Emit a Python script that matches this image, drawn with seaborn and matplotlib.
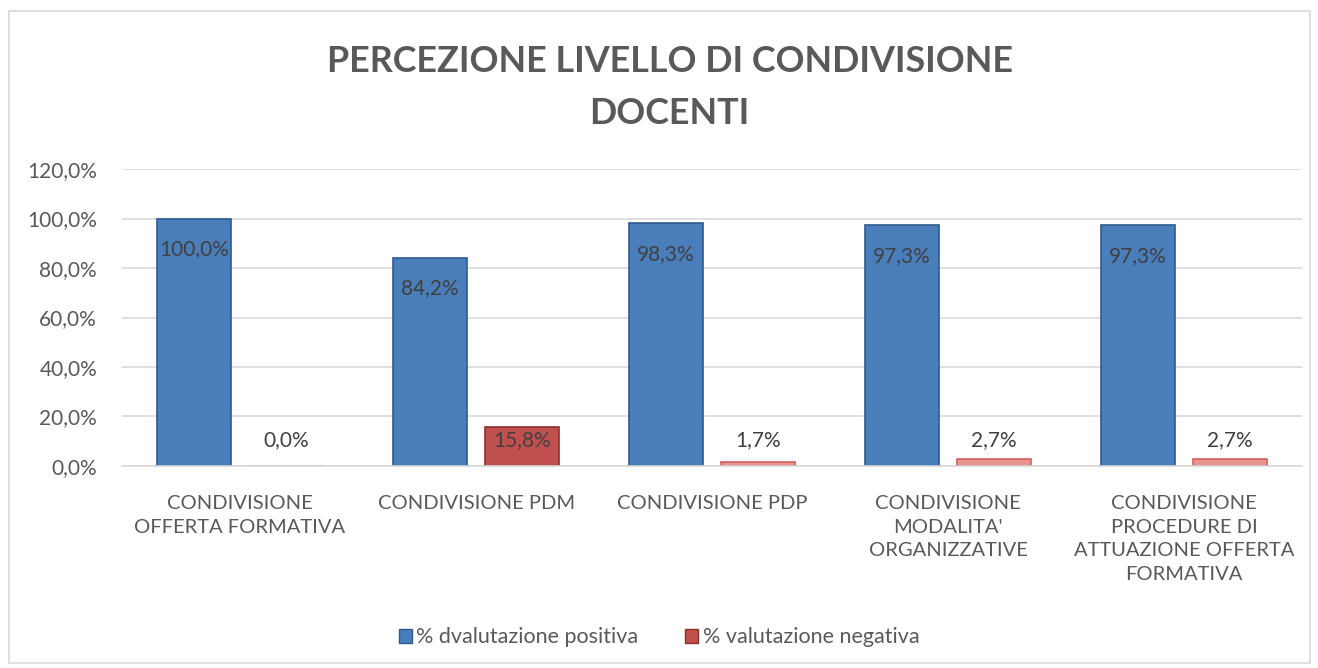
import matplotlib
matplotlib.use("Agg")
import matplotlib.pyplot as plt
import seaborn as sns
import pandas as pd
from matplotlib.patches import Rectangle, Patch

categories = ["CONDIVISIONE\nOFFERTA FORMATIVA", "CONDIVISIONE PDM", "CONDIVISIONE PDP",
              "CONDIVISIONE\nMODALITA'\nORGANIZZATIVE",
              "CONDIVISIONE\nPROCEDURE DI\nATTUAZIONE OFFERTA\nFORMATIVA"]
positive = [1.000, 0.842, 0.983, 0.973, 0.973]
negative = [0.000, 0.158, 0.017, 0.027, 0.027]
series = ["% dvalutazione positiva", "% valutazione negativa"]
title = "PERCEZIONE LIVELLO DI CONDIVISIONE\nDOCENTI"
yticks = [0, 0.2, 0.4, 0.6, 0.8, 1.0, 1.2]

sns.set_theme(style="white")
plt.rcParams['font.family'] = ['Lato', 'DejaVu Sans']

df = pd.DataFrame({
    "cat": categories * 2,
    "val": positive + negative,
    "ser": [series[0]] * len(categories) + [series[1]] * len(categories),
})

gray = "#595959"
blue = "#4A7EBB"
red = "#C0504D"

fig = plt.figure(figsize=(13.18, 6.68), dpi=100)
ax = fig.add_axes([0.0926, 0.3024, 0.8954, 0.4446])
sns.barplot(data=df, x="cat", y="val", hue="ser", order=categories, hue_order=series,
            palette=[blue, red], saturation=1, width=0.78, gap=0.2, ax=ax, legend=False,
            edgecolor=None, linewidth=0)

for i, p in enumerate(ax.patches[:len(categories)]):
    p.set_edgecolor("#2C5A8F"); p.set_linewidth(1.2)
for i, p in enumerate(ax.patches[len(categories):2 * len(categories)]):
    p.set_edgecolor("#8E2F2C"); p.set_linewidth(1.2)
    if negative[i] < 0.05:
        p.set_facecolor("#E8938F"); p.set_edgecolor("#D0625E")

ax.set_ylim(0, 1.2)
ax.set_yticks(yticks)
ax.set_yticklabels([f"{v*100:.1f}%".replace(".", ",") for v in yticks], color=gray, fontsize=15)
ax.tick_params(axis='x', labelsize=14.5, colors=gray, length=0, pad=21)
ax.tick_params(axis='y', length=0, pad=18)
for lab in ax.get_xticklabels():
    lab.set_linespacing(1.47)
ax.set_xlabel(""); ax.set_ylabel("")
ax.grid(axis='y', color="#D9D9D9", linewidth=1.2)
ax.set_axisbelow(True)
for s in ["left", "right", "top"]:
    ax.spines[s].set_visible(False)
ax.spines["bottom"].set_color("#D9D9D9")
ax.spines["bottom"].set_linewidth(1.2)

blue_bars = ax.patches[:len(categories)]
red_bars = ax.patches[len(categories):2 * len(categories)]
for p, v in zip(blue_bars, positive):
    ax.text(p.get_x() + p.get_width() / 2, v - 0.125, f"{v*100:.1f}%".replace(".", ","),
            ha="center", va="center", fontsize=15, color="#404040")
for p, v in zip(red_bars, negative):
    ax.text(p.get_x() + p.get_width() / 2, 0.105, f"{v*100:.1f}%".replace(".", ","),
            ha="center", va="center", fontsize=15, color="#404040")

fig.text(0.508, 0.869, title, ha="center", va="center", fontsize=25.8, fontweight="bold",
         color=gray, linespacing=1.7)

handles = [Patch(facecolor=blue, edgecolor="#2C5A8F"), Patch(facecolor=red, edgecolor="#8E2F2C")]
fig.legend(handles, series, loc="center", bbox_to_anchor=(0.5, 0.046), ncol=2, frameon=False,
           fontsize=15.5, labelcolor=gray, handlelength=0.6, handleheight=0.6,
           handletextpad=0.2, columnspacing=2.2)

fig.patches.append(Rectangle((0.007, 0.008), 0.987, 0.976, transform=fig.transFigure,
                             fill=False, edgecolor="#D9D9D9", linewidth=1.2))

fig.savefig("out.png", dpi=100)
